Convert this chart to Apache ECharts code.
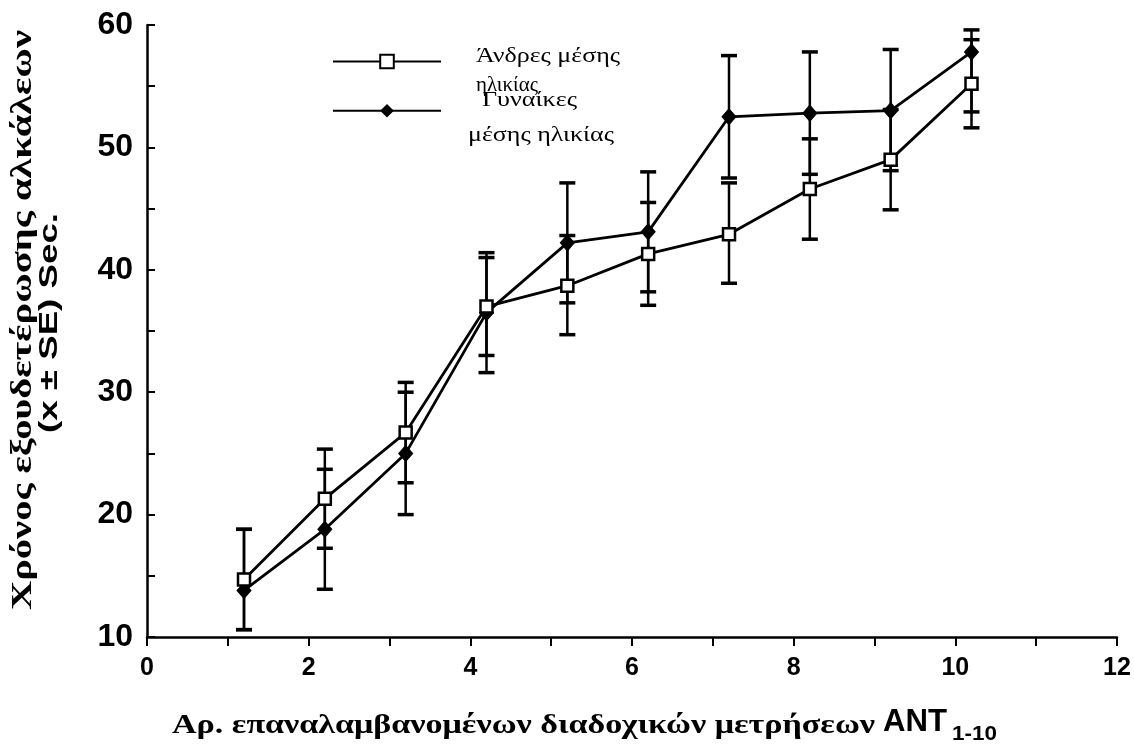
<!DOCTYPE html>
<html><head><meta charset="utf-8">
<script src="https://cdn.jsdelivr.net/npm/echarts@6/dist/echarts.min.js"></script>
<style>html,body{margin:0;background:#fff}#c{width:1134px;height:749px}</style>
</head><body><div id="c"></div>
<script>
// ---- data ----
const xValues   = [1.2, 2.2, 3.2, 4.2, 5.2, 6.2, 7.2, 8.2, 9.2, 10.2];
const menName   = 'Άνδρες μέσης ηλικίας';
const womenName = 'Γυναίκες μέσης ηλικίας';
const menMean   = [14.7, 21.3, 26.7, 37.0, 38.7, 41.3, 42.9, 46.6, 49.0, 55.2];
const menLow    = [10.6, 17.25, 22.6, 33.0, 34.7, 37.1, 38.9, 42.5, 44.9, 51.6];
const menHigh   = [18.8, 25.35, 30.8, 41.0, 42.8, 45.5, 47.1, 50.7, 53.1, 58.8];
const womenMean = [13.8, 18.8, 25.0, 36.5, 42.2, 43.1, 52.5, 52.8, 53.0, 57.8];
const womenLow  = [10.6, 13.9, 20.0, 31.6, 37.3, 38.2, 47.5, 47.8, 48.1, 52.9];
const womenHigh = [18.8, 23.7, 30.0, 41.4, 47.1, 48.0, 57.5, 57.8, 58.0, 59.6];
const xRange = [0, 12], xStep = 2;
const yRange = [10, 60], yStep = 10;
const yTitle1 = 'Χρόνος εξουδετέρωσης αλκάλεων';
const yTitle2 = '(x ± SE) Sec.';
const xTitle  = 'Αρ. επαναλαμβανομένων διαδοχικών μετρήσεων';
const xTitleB = 'ANT';
const xTitleSub = '1-10';
const legendLines = ['Άνδρες μέσης', 'ηλικίας', 'Γυναίκες', 'μέσης ηλικίας'];

const chart = echarts.init(document.getElementById('c'), null, {renderer:'canvas'});

const mctx = document.createElement('canvas').getContext('2d');
function fit(text, font, width){ mctx.font = font; return width / mctx.measureText(text).width; }

function errSeries(name, low, high){
  return {
    type:'custom', name: name + ' SE', silent:true, z:1,
    data: xValues.map((x,i)=>[x, low[i], high[i]]),
    encode:{x:0, y:[1,2]},
    renderItem(params, api){
      const x = api.value(0);
      const lo = api.coord([x, api.value(1)]);
      const hi = api.coord([x, api.value(2)]);
      const hw = 8;
      return {type:'group', children:[
        {type:'line', shape:{x1:lo[0],y1:lo[1],x2:hi[0],y2:hi[1]}, style:{stroke:'#000', lineWidth:2.5}},
        {type:'line', shape:{x1:lo[0]-hw,y1:lo[1],x2:lo[0]+hw,y2:lo[1]}, style:{stroke:'#000',lineWidth:3.5}},
        {type:'line', shape:{x1:hi[0]-hw,y1:hi[1],x2:hi[0]+hw,y2:hi[1]}, style:{stroke:'#000',lineWidth:3.5}}
      ]};
    }
  };
}

const serif = '"Liberation Serif","DejaVu Serif",serif';
const sans = '"Liberation Sans",Arial,sans-serif';

function txt(text, font, x, y, width, opts){
  opts = opts || {};
  const s = fit(text, font, width);
  return {type:'text', x:x, y:y, rotation:opts.rot||0, scaleX:s,
    style:{text:text, font:font, fill:'#000', textAlign:opts.align||'left', textVerticalAlign:'middle'}};
}

const fY1 = 'bold 29px ' + serif;
const fY2 = 'bold 26px ' + sans;
const fX  = 'bold 27px ' + serif;
const fXB = 'bold 32px ' + sans;
const fXS = 'bold 21px ' + sans;
const fL  = '22px ' + serif;

chart.setOption({
  animation:false,
  backgroundColor:'#fff',
  grid:{left:147, right:17, top:25, bottom:112, containLabel:false},
  xAxis:{
    type:'value', min:xRange[0], max:xRange[1], interval:xStep,
    axisLine:{lineStyle:{color:'#000', width:2.5}},
    axisTick:{inside:false, length:9, lineStyle:{color:'#000', width:2}},
    minorTick:{show:true, splitNumber:2, length:9, lineStyle:{color:'#000', width:2}},
    splitLine:{show:false},
    axisLabel:{color:'#000', fontFamily:sans, fontWeight:'bold', fontSize:25, margin:19}
  },
  yAxis:{
    type:'value', min:yRange[0], max:yRange[1], interval:yStep,
    axisLine:{lineStyle:{color:'#000', width:2.5}},
    axisTick:{inside:true, length:8, lineStyle:{color:'#000', width:2}},
    minorTick:{show:true, splitNumber:2, length:8, lineStyle:{color:'#000', width:2}},
    splitLine:{show:false},
    axisLabel:{color:'#000', fontFamily:sans, fontWeight:'bold', fontSize:32, margin:14}
  },
  legend:{
    orient:'vertical', left:327, top:48, itemWidth:108, itemHeight:17, itemGap:33,
    formatter:()=>'', data:[menName, womenName], selectedMode:false
  },
  series:[
    errSeries(menName, menLow, menHigh),
    errSeries(womenName, womenLow, womenHigh),
    {type:'line', name:womenName, z:3, data:xValues.map((x,i)=>[x, womenMean[i]]),
     symbol:'diamond', symbolSize:[14,16], itemStyle:{color:'#000', borderColor:'#000'},
     lineStyle:{color:'#000', width:2.8}},
    {type:'line', name:menName, z:4, data:xValues.map((x,i)=>[x, menMean[i]]),
     symbol:'rect', symbolSize:12, itemStyle:{color:'#fff', borderColor:'#000', borderWidth:2.5},
     lineStyle:{color:'#000', width:2.8}}
  ],
  graphic:[
    txt(yTitle1, fY1, 24, 320, 580, {rot:Math.PI/2, align:'center'}),
    txt(yTitle2, fY2, 50, 323, 220, {rot:Math.PI/2, align:'center'}),
    txt(xTitle, fX, 172, 726, 703),
    txt(xTitleB, fXB, 883, 722, 64),
    txt(xTitleSub, fXS, 952, 734, 45),
    txt(legendLines[0], fL, 476, 56, 144),
    txt(legendLines[1], fL, 476, 85, 62),
    txt(legendLines[2], fL, 482, 100, 95),
    txt(legendLines[3], fL, 468, 135, 146)
  ]
});
</script></body></html>
